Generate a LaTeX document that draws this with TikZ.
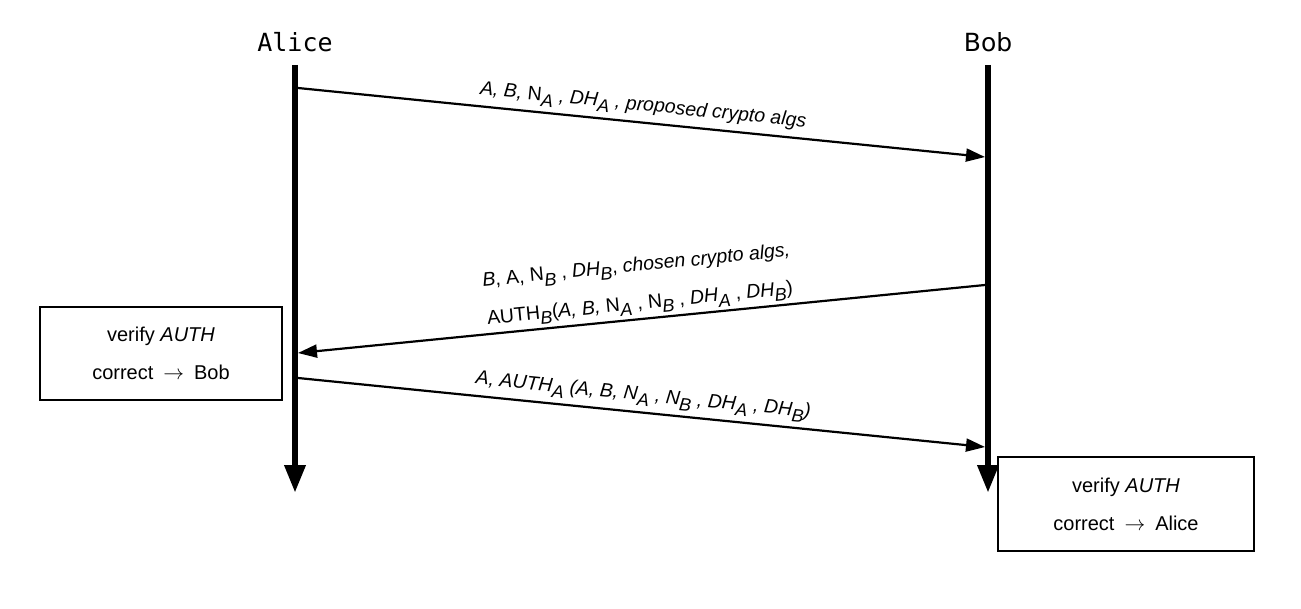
\documentclass[tikz,border=0pt]{standalone}
\usepackage{fontspec}
\setmainfont{Liberation Sans}
\newfontfamily\alicefont{DejaVu Sans Mono}
\newfontfamily\bobfont{DejaVu Sans}
\usetikzlibrary{arrows.meta}
\newcommand{\sbs}[1]{\raisebox{-0.55ex}{\fontsize{18}{18}\selectfont #1}}
\begin{document}
\begin{tikzpicture}[x=1pt,y=-1pt,
  lifeline/.style={line width=6.5pt, -{Triangle[length=28pt,width=20pt]}},
  msg/.style={line width=2.2pt, -{Triangle[length=19pt,width=13pt]}},
  lbl/.style={font=\fontsize{19.5}{38}\selectfont, align=center, sloped, above, inner sep=5pt},
  actor/.style={inner sep=0pt},
  notebox/.style={draw, line width=2.2pt, align=center, font=\fontsize{20}{38}\selectfont}]
\useasboundingbox (0,0) rectangle (1301,609);
\node[actor, font=\alicefont\fontsize{25}{25}\selectfont] (alice) at (295,42) {Alice};
\node[actor, font=\bobfont\fontsize{25}{25}\selectfont] (bob) at (988,42) {Bob};
\coordinate (aTop) at (295,65);
\coordinate (aBot) at (295,493);
\coordinate (bTop) at (988,65);
\coordinate (bBot) at (988,493);
\draw[lifeline] (aTop) -- (aBot);
\draw[lifeline] (bTop) -- (bBot);
\coordinate (m1s) at (298,88);
\coordinate (m1e) at (985,157);
\coordinate (m2s) at (985,285);
\coordinate (m2e) at (298,353);
\coordinate (m3s) at (298,378);
\coordinate (m3e) at (985,447);
\draw[msg] (m1s) -- node[lbl] (l1) {\itshape A, B, {\upshape N}\sbs{A} , DH\sbs{A} , proposed crypto algs} (m1e);
\draw[msg] (m2s) -- node[lbl, inner sep=3pt] (l2) {\textit{B}, A, N\sbs{\textit{B}} , \textit{DH}\sbs{\textit{B}}, \textit{chosen crypto algs,}\\AUTH\sbs{\textit{B}}(\textit{A, B,} N\sbs{\textit{A}} , N\sbs{\textit{B}} , \textit{DH}\sbs{\textit{A}} , \textit{DH}\sbs{\textit{B}})} (m2e);
\draw[msg] (m3s) -- node[lbl] (l3) {\itshape A, AUTH\sbs{A} (A, B, N\sbs{A} , N\sbs{B} , DH\sbs{A} , DH\sbs{B})} (m3e);
\node[notebox, minimum width=242pt, minimum height=93pt] (vA) at (161,353.5) {verify \textit{AUTH}\\correct\enspace$\rightarrow$\enspace Bob};
\node[notebox, minimum width=256pt, minimum height=94pt] (vB) at (1126,504) {verify \textit{AUTH}\\correct\enspace$\rightarrow$\enspace Alice};
\end{tikzpicture}
\end{document}
